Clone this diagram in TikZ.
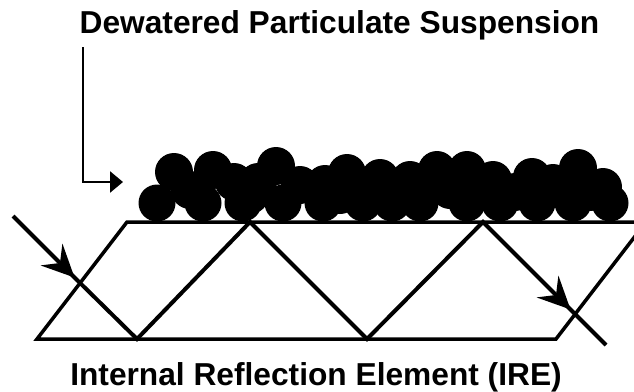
\documentclass[tikz,border=0pt]{standalone}
\usepackage{fontspec}
\setmainfont{Liberation Sans}
\usetikzlibrary{arrows.meta}
\begin{document}
\begin{tikzpicture}[x=1pt,y=-1pt,
  edge/.style={line width=3.5pt, line join=miter},
  beam/.style={line width=4pt, line join=miter},
  pointer/.style={line width=2.4pt, -{Triangle[length=13pt,width=21pt]}},
  particle/.style={fill=black},
  caption/.style={font=\fontsize{31.7}{38}\selectfont\bfseries, inner sep=0pt},
  % swept arrowhead for a beam running down to the right
  headpic/.pic={\fill (1.5,1.5) -- (-10.6,-32.5) -- (-13,-13)
                 -- (-32.5,-10.6) -- cycle;}]
\useasboundingbox (0,0) rectangle (634,391);

% reflection element corners and beam bounce points
\coordinate (BL) at (37,339);
\coordinate (TL) at (127,222);
\coordinate (BR) at (556,339);
\coordinate (TR) at (646,222);
\coordinate (TE) at (640,222);
\coordinate (in) at (13,216);
\coordinate (inTip) at (73,276);
\coordinate (b1) at (137,339);
\coordinate (t1) at (250,222);
\coordinate (b2) at (367,339);
\coordinate (t2) at (483,222);
\coordinate (outTip) at (569,308);
\coordinate (out) at (606,345);

\begin{scope}
  \clip (0,0) rectangle (634,391);
  % particle layer resting on the upper face
  \foreach \x/\y in {
     174/172, 213/170, 234/182, 258/182, 276/166, 300/185, 325/184,
     347/173, 380/178, 410/180, 437/170, 467/170, 493/180, 532/177,
     553/183, 578/168, 603/187, 190/190, 250/195, 340/195,
     450/190, 395/192, 515/192, 590/192, 425/185, 360/188}
    \fill[particle] (\x,\y) circle[radius=19pt];
  \foreach \x in {157,203,243,283,323,363,392,420,467,500,537,573,610}
    \fill[particle] (\x,203) circle[radius=18.5pt];
  % internal reflection element outline
  \draw[edge] (TE) -- (TL) -- (BL) -- (BR) -- (TR);
\end{scope}

% beam path through the element
\draw[beam] (in) -- (inTip) -- (b1) -- (t1) -- (b2) -- (t2) -- (outTip) -- (out);
\pic at (inTip) {headpic};
\pic at (outTip) {headpic};

% labels
\node[caption, anchor=base] (top) at (339.5,33) {Dewatered Particulate Suspension};
\node[caption, anchor=base] (bottom) at (316,385) {Internal Reflection Element (IRE)};

% pointer from the upper label to the particle layer
\coordinate (pStart) at (83,47);
\coordinate (pCorner) at (83,182);
\coordinate (pEnd) at (123,182);
\draw[pointer] (pStart) -- (pCorner) -- (pEnd);
\end{tikzpicture}
\end{document}
